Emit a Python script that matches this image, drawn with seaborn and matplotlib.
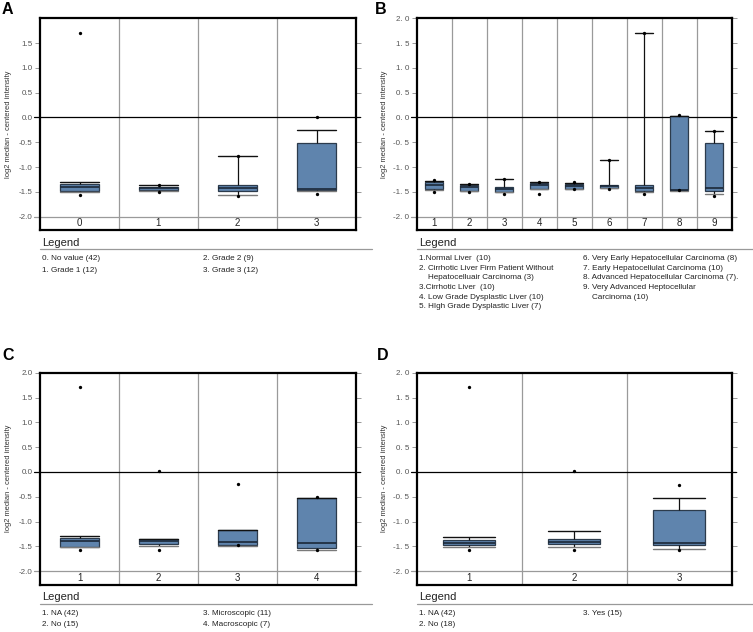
import matplotlib
matplotlib.use("Agg")
import matplotlib.pyplot as plt
import seaborn as sns
import pandas as pd
import numpy as np

sns.set_style("white")
plt.rcParams['font.family'] = ['Liberation Sans', 'DejaVu Sans']

# ---------------- data ----------------
# Panel A
a_cats = ["0", "1", "2", "3"]
a_whislo = [-1.51, -1.49, -1.56, -1.49]
a_q1 = [-1.48, -1.46, -1.48, -1.47]
a_med = [-1.41, -1.43, -1.42, -1.45]
a_q3 = [-1.34, -1.41, -1.37, -0.52]
a_whishi = [-1.30, -1.37, -0.77, -0.26]
a_min = [-1.56, -1.50, -1.585, -1.545]
a_max = [1.70, -1.365, -0.77, 0.005]
a_yticks = [-2.0, -1.5, -1.0, -0.5, 0.0, 0.5, 1.0, 1.5]
a_ylabels = ["-2.0", "-1.5", "-1.0", "-0.5", "0.0", "0.5", "1.0", "1.5"]
a_legend = [["0. No value (42)", "1. Grade 1 (12)"],
            ["2. Grade 2 (9)", "3. Grade 3 (12)"]]

# Panel B
b_cats = ["1", "2", "3", "4", "5", "6", "7", "8", "9"]
b_whislo = [-1.46, -1.49, -1.50, -1.45, -1.45, -1.42, -1.50, -1.48, -1.545]
b_q1 = [-1.44, -1.48, -1.50, -1.44, -1.44, -1.415, -1.49, -1.47, -1.48]
b_med = [-1.36, -1.40, -1.44, -1.37, -1.38, -1.39, -1.43, -1.47, -1.43]
b_q3 = [-1.31, -1.36, -1.40, -1.33, -1.34, -1.36, -1.37, 0.02, -0.525]
b_whishi = [-1.29, -1.35, -1.25, -1.30, -1.32, -0.85, 1.70, 0.03, -0.265]
b_min = [-1.51, -1.50, -1.55, -1.54, -1.445, -1.445, -1.545, -1.47, -1.575]
b_max = [-1.27, -1.34, -1.25, -1.31, -1.31, -0.855, 1.70, 0.04, -0.265]
b_yticks = [-2.0, -1.5, -1.0, -0.5, 0.0, 0.5, 1.0, 1.5, 2.0]
b_ylabels = ["-2. 0", "-1. 5", "-1. 0", "-0. 5", "0. 0", "0. 5", "1. 0", "1. 5", "2. 0"]
b_legend = [["1.Normal Liver  (10)",
             "2. Cirrhotic Liver Firm Patient Without",
             "    Hepatocelluair Carcinoma (3)",
             "3.Cirrhotic Liver  (10)",
             "4. Low Grade Dysplastic Liver (10)",
             "5. HIgh Grade Dysplastic Liver (7)"],
            ["6. Very Early Hepatocellular Carcinoma (8)",
             "7. Early Hepatocellulat Carcinoma (10)",
             "8. Advanced Hepatocellular Carcinoma (7).",
             "9. Very Advanced Heptocellular",
             "    Carcinoma (10)"]]

# Panel C
c_cats = ["1", "2", "3", "4"]
c_whislo = [-1.51, -1.50, -1.49, -1.575]
c_q1 = [-1.51, -1.45, -1.475, -1.54]
c_med = [-1.395, -1.40, -1.42, -1.44]
c_q3 = [-1.34, -1.36, -1.175, -0.52]
c_whishi = [-1.30, -1.36, -1.175, -0.52]
c_min = [-1.565, -1.565, -1.48, -1.58]
c_max = [1.71, 0.015, -0.25, -0.515]
c_yticks = [-2.0, -1.5, -1.0, -0.5, 0.0, 0.5, 1.0, 1.5, 2.0]
c_ylabels = ["-2.0", "-1.5", "-1.0", "-0.5", "0.0", "0.5", "1.0", "1.5", "2.0"]
c_legend = [["1. NA (42)", "2. No (15)"],
            ["3. Microscopic (11)", "4. Macroscopic (7)"]]

# Panel D
d_cats = ["1", "2", "3"]
d_whislo = [-1.52, -1.515, -1.555]
d_q1 = [-1.475, -1.455, -1.475]
d_med = [-1.44, -1.41, -1.44]
d_q3 = [-1.37, -1.36, -0.775]
d_whishi = [-1.32, -1.19, -0.535]
d_min = [-1.57, -1.57, -1.575]
d_max = [1.71, 0.015, -0.265]
d_yticks = [-2.0, -1.5, -1.0, -0.5, 0.0, 0.5, 1.0, 1.5, 2.0]
d_ylabels = ["-2. 0", "-1. 5", "-1. 0", "-0. 5", "0. 0", "0. 5", "1. 0", "1. 5", "2. 0"]
d_legend = [["1. NA (42)", "2. No (18)"],
            ["3. Yes (15)"]]

# ---------------- style ----------------
W, H = 753, 632
BOX = "#5f84ad"
EDGE = "#2c3b4c"
MED = "#1b2838"
GRID = "#9a9a9a"

fig = plt.figure(figsize=(W / 100, H / 100), dpi=100)
fig.patch.set_facecolor("white")


def fx(px):
    return px / W


def fy(py):
    return 1 - py / H


def panel(rect_px, cats, whislo, q1, med, q3, whishi, pmin, pmax, yticks, ylabels):
    left, top, right, bottom = rect_px
    ax = fig.add_axes([fx(left), fy(bottom), (right - left) / W, (bottom - top) / H])
    n = len(cats)
    box_df = pd.DataFrame({
        "group": np.repeat(cats, 5),
        "value": np.column_stack([whislo, q1, med, q3, whishi]).ravel(),
    })
    pts_df = pd.DataFrame({"group": list(cats) * 2, "value": list(pmin) + list(pmax)})
    sns.boxplot(data=box_df, x="group", y="value", order=cats, whis=(0, 100),
                width=0.5, color=BOX, saturation=1, linecolor=EDGE, linewidth=0.9,
                showfliers=False, capwidths=0.5,
                medianprops=dict(color=MED, linewidth=1.2),
                whiskerprops=dict(color="#111111", linewidth=0.9),
                ax=ax)
    for c in ax.containers:
        if hasattr(c, "caps"):
            for k, cap in enumerate(c.caps):
                cap.set_color("#7a7a7a" if k % 2 == 0 else "#111111")
                cap.set_linewidth(1.0)
    sns.stripplot(data=pts_df, x="group", y="value", order=cats, jitter=False,
                  color="black", size=2.4, linewidth=0, ax=ax, zorder=5)
    for i in range(n - 1):
        ax.axvline(i + 0.5, color=GRID, lw=0.9, zorder=0.5)
    ax.axhline(0, color="black", lw=0.9, zorder=0.6, xmin=-0.018, xmax=1.014, clip_on=False)
    ax.axhline(-2.0, color=GRID, lw=0.9, zorder=0.6, xmin=-0.018, xmax=1.014, clip_on=False)
    ax.set_xlim(-0.5, n - 0.5)
    ax.set_ylim(-2.27, 2.0)
    ax.set_yticks(yticks)
    ax.set_yticklabels(ylabels, fontsize=5.8, color="#555555")
    ax.set_xticks(range(n))
    ax.set_xticklabels(cats, fontsize=7, color="#222222")
    ax.tick_params(axis="y", left=True, right=True, direction="out", length=3.5,
                   width=0.7, color="#999999", pad=1.8)
    ax.tick_params(axis="x", bottom=False, length=0, pad=-8.3)
    ax.set_xlabel("")
    ax.set_ylabel("log2 median - centered intensity", fontsize=5.4, color="#333333")
    ax.yaxis.set_label_coords(-0.09, 0.5)
    for s in ax.spines.values():
        s.set_visible(True)
        s.set_color("black")
        s.set_linewidth(1.6)
    return ax


def legend(x0, x_line_end, y0, col2_x, cols, row_step):
    fig.text(fx(x0 + 2), fy(y0 + 3.5), "Legend", fontsize=8, color="#222222",
             ha="left", va="baseline")
    fig.add_artist(plt.Line2D([fx(x0), fx(x_line_end)], [fy(y0 + 7), fy(y0 + 7)],
                              color="#999999", lw=0.9))
    for ci, col in enumerate(cols):
        cx = x0 + 2.5 if ci == 0 else col2_x
        for ri, label in enumerate(col):
            fig.text(fx(cx), fy(y0 + 16.3 + ri * row_step), label, fontsize=5.85,
                     color="#222222", ha="left", va="center")


panel((40, 18.3, 356, 230), a_cats, a_whislo, a_q1, a_med, a_q3, a_whishi, a_min, a_max,
      a_yticks, a_ylabels)
panel((416.7, 18.3, 731.7, 230), b_cats, b_whislo, b_q1, b_med, b_q3, b_whishi, b_min, b_max,
      b_yticks, b_ylabels)
panel((40, 372.7, 356, 584.5), c_cats, c_whislo, c_q1, c_med, c_q3, c_whishi, c_min, c_max,
      c_yticks, c_ylabels)
panel((416.7, 372.7, 731.7, 584.5), d_cats, d_whislo, d_q1, d_med, d_q3, d_whishi, d_min, d_max,
      d_yticks, d_ylabels)

legend(40, 372, 242, 203, a_legend, 11.7)
legend(416.7, 753, 242, 583.3, b_legend, 9.7)
legend(40, 372, 597, 203, c_legend, 11.7)
legend(416.7, 753, 597, 583.3, d_legend, 11.7)

for letter, x, y in [("A", 2, 14), ("B", 375, 14), ("C", 2, 360), ("D", 377, 360)]:
    fig.text(fx(x), fy(y), letter, fontsize=11.5, fontweight="bold", color="black",
             ha="left", va="baseline")

fig.savefig("out.png", dpi=100, facecolor="white")
